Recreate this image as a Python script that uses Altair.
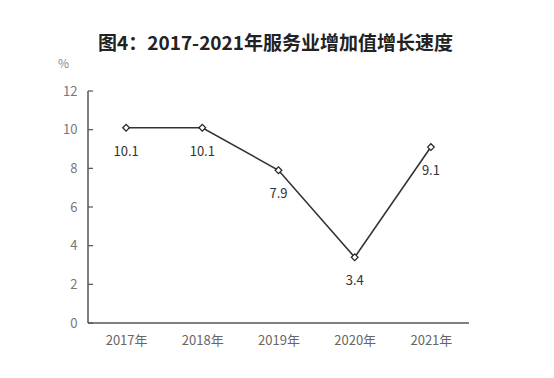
import altair as alt
import pandas as pd

years = ["2017年", "2018年", "2019年", "2020年", "2021年"]
growth = [10.1, 10.1, 7.9, 3.4, 9.1]
labels = ["10.1", "10.1", "7.9", "3.4", "9.1"]
y_ticks = [0, 2, 4, 6, 8, 10, 12]

df = pd.DataFrame({"year": years, "growth": growth, "label": labels})
tick_df = pd.DataFrame({"t": y_ticks})

W, H = 381, 232
FONT = "Noto Sans CJK SC"

x_enc = alt.X("year:O", sort=years, scale=alt.Scale(type="point", padding=0.5),
              axis=alt.Axis(title=None, labelAngle=0, ticks=False, domain=False,
                            labelColor="#666666", labelFont=FONT,
                            labelFontSize=13, labelPadding=11, grid=False))
y_scale = alt.Scale(domain=[0, 12], nice=False, zero=True)
y_axis = alt.Axis(values=y_ticks, title="%", titleAngle=0, titleX=-25, titleY=-28,
                  titleAlign="center", titleBaseline="middle", titleFont=FONT,
                  titleFontSize=12, titleFontWeight="normal", titleColor="#888888",
                  ticks=False, grid=False, domain=False,
                  labelColor="#777777", labelFont=FONT, labelFontSize=13,
                  labelPadding=11, labelOverlap=False)
y_enc = alt.Y("growth:Q", scale=y_scale, axis=y_axis)

base = alt.Chart(df)
line = base.mark_line(color="#333333", strokeWidth=1.6).encode(x=x_enc, y=y_enc)
pts = base.mark_point(shape="diamond", filled=False, fill="white", stroke="#222222",
                      strokeWidth=1.2, size=45, opacity=1).encode(x=x_enc, y=y_enc)
txt = base.mark_text(dy=24, font=FONT, fontSize=13, color="#333333").encode(
    x=x_enc, y=y_enc, text="label:N")
ticks = alt.Chart(tick_df).mark_rule(color="#555555", strokeWidth=1.2).encode(
    y=alt.Y("t:Q", scale=y_scale, axis=y_axis), x=alt.value(0), x2=alt.value(5))

cover_df = pd.DataFrame({"k": [0]})
left_line = alt.Chart(cover_df).mark_rule(color="#555555", strokeWidth=1.5).encode(
    x=alt.value(0), y=alt.value(0), y2=alt.value(H))
bottom_line = alt.Chart(cover_df).mark_rule(color="#555555", strokeWidth=1.5).encode(
    x=alt.value(0), x2=alt.value(W), y=alt.value(H))

chart = alt.layer(line, pts, txt, ticks, left_line, bottom_line).properties(
    width=W, height=H,
    background="white",
    title=alt.TitleParams("图4：2017-2021年服务业增加值增长速度", font=FONT, fontSize=19,
                          fontWeight="bold", color="#222222", anchor="middle", offset=3, dx=-3),
    autosize=alt.AutoSizeParams(type="none"),
    padding={"left": 88, "top": 91, "right": 554 - 88 - W, "bottom": 378 - 91 - H},
).configure_view(stroke=None).configure_axis(domain=False, grid=False)

chart.save("out.html", embed_options={"renderer": "svg", "actions": False})
